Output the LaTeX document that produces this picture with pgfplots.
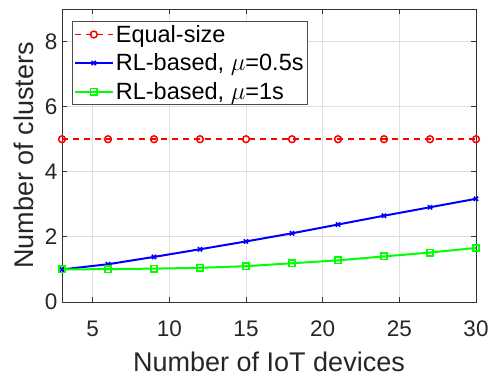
\documentclass[border=0pt]{standalone}
\usepackage{pgfplots}
\pgfplotsset{compat=1.18}
\usepackage{fontspec}
\setmainfont{Liberation Sans}
\begin{document}
\begin{tikzpicture}
\begin{axis}[
  name=ax,
  scale only axis,
  width=414pt, height=293pt,
  xmin=3, xmax=30, ymin=0, ymax=9,
  xtick={5,10,15,20,25,30},
  ytick={0,2,4,6,8},
  tick align=inside,
  major tick length=5pt,
  grid=major,
  grid style={draw=black!12, line width=0.8pt},
  axis line style={draw=black!80, line width=0.8pt},
  tick style={draw=black!80, line width=0.8pt},
  /pgf/number format/assume math mode=true,
  ticklabel style={font=\fontsize{22.5}{26}\selectfont, text=black!85},
  xticklabel style={yshift=-15pt},
  yticklabel style={xshift=-1pt},
  xlabel={Number of IoT devices},
  ylabel={Number of clusters},
  label style={font=\fontsize{27}{31}\selectfont, text=black!85},
  xlabel style={yshift=-9pt},
  ylabel style={yshift=4pt},
  legend cell align=left,
  legend style={font=\fontsize{23.5}{27}\selectfont, draw=black!70, line width=0.8pt, at={(0.024,0.958)}, anchor=north west, inner sep=1.5pt, row sep=6pt},
  legend image code/.code={\draw[#1] (0pt,0pt) -- (38pt,0pt); \draw[#1, only marks] plot coordinates {(19pt,0pt)};},
]
\addplot[red, line width=1.9pt, dash pattern=on 6pt off 5pt, mark=o, mark size=3.4pt, mark options={solid, line width=1.5pt}] coordinates {
(3,5) (6,5) (9,5) (12,5) (15,5) (18,5) (21,5) (24,5) (27,5) (30,5)};
\addlegendentry{Equal-size}
\addplot[blue, line width=2pt, mark=x, mark size=3pt, mark options={line width=1.6pt}] coordinates {
(3,1) (6,1.16) (9,1.385) (12,1.62) (15,1.86) (18,2.11) (21,2.38) (24,2.65) (27,2.91) (30,3.17)};
\addlegendentry{RL-based, $\mu$=0.5s}
\addplot[green, line width=2pt, mark=square, mark size=3.2pt, mark options={line width=1.6pt}] coordinates {
(3,1) (6,1.01) (9,1.025) (12,1.05) (15,1.1) (18,1.19) (21,1.28) (24,1.4) (27,1.52) (30,1.66)};
\addlegendentry{RL-based, $\mu$=1s}
\end{axis}
\pgfresetboundingbox
\path ([shift={(-62pt,-77pt)}]ax.south west) rectangle ([shift={(15pt,9pt)}]ax.north east);
\end{tikzpicture}
\end{document}
